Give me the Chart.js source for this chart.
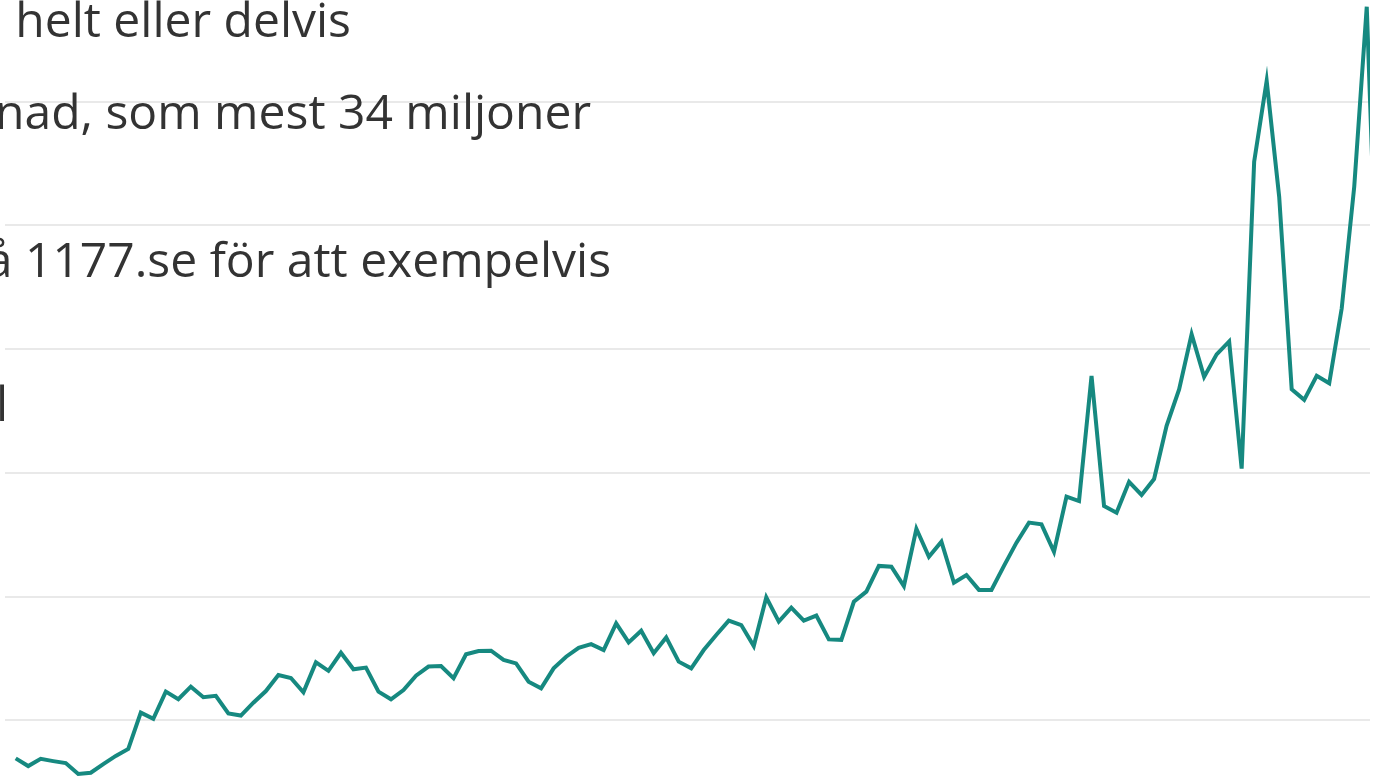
<!DOCTYPE html>
<html lang="sv">
<head>
<meta charset="utf-8">
<script src="https://cdn.jsdelivr.net/npm/chart.js@4"></script>
<style>
  html, body { margin: 0; padding: 0; background: #fff; overflow: hidden; width: 1386px; height: 777px; }
  #wrap { position: relative; width: 1386px; height: 777px; overflow: hidden; }
  #chart { position: absolute; left: 5px; top: -22px; }
  .txt {
    position: absolute; white-space: nowrap; text-align: right;
    font-family: "Open Sans", sans-serif; font-size: 48px; line-height: 48px; color: #333;
  }
</style>
</head>
<body>
<div id="wrap">
  <canvas id="chart" width="1365" height="866"></canvas>
  <div class="txt" style="right:1035px; top:-5px;">Ersättning för sjukskrivningen helt eller delvis</div>
  <div class="txt" style="right:795px; top:87px;">Kostnaden varje månad, som mest 34 miljoner</div>
  <div class="txt" style="right:775px; top:235px;">Allt fler loggar in på 1177.se för att exempelvis</div>
  <div class="txt" style="right:1378px; top:379px;">kontakta sin vårdcentral</div>
</div>
<script>
// months since start of series
var months = [];
for (var m = 0; m < 110; m++) months.push(m);

// kostnad per månad, miljoner kr
var cost = [
  3.46, 3.15, 3.44, 3.35, 3.27, 2.83, 2.88, 3.23, 3.56, 3.84,
  5.31, 5.06, 6.16, 5.85, 6.36, 5.93, 5.99, 5.28, 5.19, 5.71,
  6.18, 6.83, 6.71, 6.13, 7.34, 7.00, 7.73, 7.06, 7.13, 6.16,
  5.85, 6.22, 6.80, 7.17, 7.19, 6.70, 7.67, 7.80, 7.81, 7.44,
  7.30, 6.56, 6.29, 7.10, 7.57, 7.93, 8.08, 7.84, 8.92, 8.15,
  8.62, 7.71, 8.35, 7.37, 7.10, 7.84, 8.45, 9.03, 8.85, 8.00,
  9.97, 8.99, 9.55, 9.03, 9.23, 8.27, 8.25, 9.79, 10.20, 11.24,
  11.21, 10.42, 12.74, 11.61, 12.22, 10.56, 10.87, 10.27, 10.27, 11.24,
  12.18, 12.99, 12.92, 11.81, 14.04, 13.86, 18.92, 13.66, 13.39, 14.64,
  14.11, 14.75, 16.90, 18.37, 20.60, 18.88, 19.79, 20.31, 15.17, 27.58,
  30.84, 26.16, 18.38, 17.95, 18.92, 18.62, 21.65, 26.57, 33.84, 19.4
];

// y gridlines every 5 miljoner
var yTicks = [0, 5, 10, 15, 20, 25, 30, 35];

var points = months.map(function (x, i) { return { x: x, y: cost[i] }; });

new Chart(document.getElementById('chart'), {
  type: 'line',
  data: {
    datasets: [{
      data: points,
      borderColor: '#168980',
      borderWidth: 4,
      pointRadius: 0,
      tension: 0,
      fill: false,
      clip: 0
    }]
  },
  options: {
    responsive: false,
    animation: false,
    devicePixelRatio: 1,
    layout: { padding: 0 },
    plugins: { legend: { display: false }, tooltip: { enabled: false } },
    scales: {
      x: {
        type: 'linear',
        min: -0.855,
        max: 108.26,
        display: false
      },
      y: {
        min: 0,
        max: 35,
        afterBuildTicks: function (axis) {
          axis.ticks = yTicks.map(function (v) { return { value: v }; });
        },
        ticks: { display: false },
        border: { display: false },
        grid: { color: '#e9e9e9', lineWidth: 2, drawTicks: false }
      }
    }
  }
});
</script>
</body>
</html>
